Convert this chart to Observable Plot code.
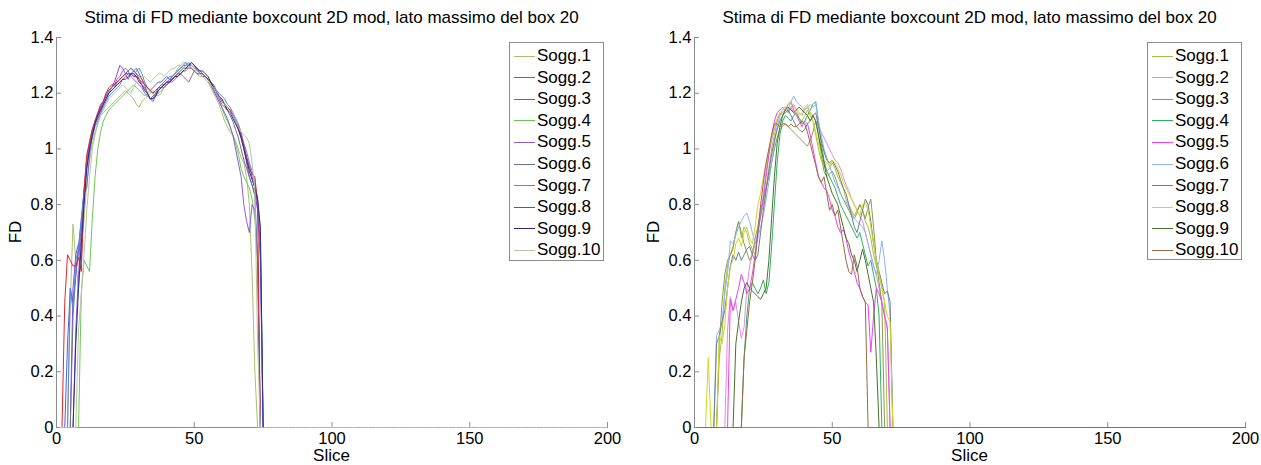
<!DOCTYPE html>
<html>
<head>
<meta charset="utf-8">
<script src="https://cdn.jsdelivr.net/npm/d3@7"></script>
<script src="https://cdn.jsdelivr.net/npm/@observablehq/plot@0.6"></script>
<style>
  body { margin: 0; background: #fff; font-family: "Liberation Sans", Arial, Helvetica, sans-serif; }
  #root { position: relative; width: 1261px; height: 465px; overflow: hidden; }
  .panel { position: absolute; top: 0; width: 620px; height: 465px; }
  .title { position: absolute; top: 8px; font-size: 17px; white-space: nowrap; transform: translateX(-50%); color: #000; }
  .xlab { position: absolute; top: 448px; font-size: 17px; line-height: 16px; transform: translateX(-50%); color: #000; }
  .ylab { position: absolute; font-size: 17px; transform: translate(-50%, -50%) rotate(-90deg); color: #000; }
  .legend { position: absolute; border: 1px solid #8c8c8c; background: #fff; box-sizing: border-box; }
  .legend .row { position: absolute; left: 0; height: 20px; display: flex; align-items: center; font-size: 17px; white-space: nowrap; }
  .legend .sw { width: 21px; height: 0; border-top: 1px solid; margin: 0 2px 0 4px; }
</style>
</head>
<body>
<div id="root"></div>
<script>
// Box-count fractal dimension per slice, one series per subject
const seriesNames = ["Sogg.1","Sogg.2","Sogg.3","Sogg.4","Sogg.5","Sogg.6","Sogg.7","Sogg.8","Sogg.9","Sogg.10"];
const titleText = "Stima di FD mediante boxcount 2D mod, lato massimo del box 20";
const xLabel = "Slice";
const yLabel = "FD";
const xTicks = [0, 50, 100, 150, 200];
const yTicks = [0, 0.2, 0.4, 0.6, 0.8, 1, 1.2, 1.4];
const yTickLabels = ["0", "0.2", "0.4", "0.6", "0.8", "1", "1.2", "1.4"];
const lastSlice = 200;

const leftColors = ["#a6c270","#9b3fe0","#4a63e8","#6cc856","#8a5ce0","#6a7490","#5a86e0","#e02828","#2e2a8a","#b8c4a0"];
const rightColors = ["#a4c040","#e58ae5","#8c9a50","#30b060","#f040f0","#8cb4f4","#6a8088","#d0d820","#4a7030","#9a6a48"];

// first non-zero slice of each subject (left panel)
const leftStart = [5, 6, 4, 9, 7, 6, 5, 3, 7, 8];
const left1 = [0.45,0.73,0.60,0.50,0.62,0.75,0.88,0.96,1.02,1.06,1.09,1.12,1.13,1.14,1.15,1.16,1.17,1.18,1.19,1.20,1.21,1.20,1.19,1.18,1.16,1.15,1.17,1.18,1.19,1.20,1.21,1.20,1.19,1.20,1.22,1.23,1.24,1.26,1.27,1.29,1.30,1.31,1.31,1.30,1.29,1.28,1.27,1.26,1.26,1.25,1.24,1.22,1.20,1.18,1.16,1.13,1.10,1.08,1.06,1.05,1.03,1.00,0.97,0.95,0.90,0.80,0.55,0.20];
const left2 = [0.50,0.62,0.66,0.60,0.82,0.95,1.02,1.06,1.10,1.12,1.14,1.17,1.20,1.21,1.22,1.24,1.27,1.30,1.29,1.27,1.25,1.27,1.28,1.27,1.25,1.23,1.22,1.20,1.18,1.18,1.20,1.22,1.23,1.23,1.24,1.25,1.25,1.26,1.27,1.28,1.29,1.29,1.30,1.31,1.30,1.28,1.27,1.27,1.26,1.25,1.24,1.23,1.21,1.19,1.17,1.16,1.14,1.13,1.12,1.10,1.07,1.04,1.00,0.95,0.90,0.87,0.84,0.78,0.60];
const left3 = [0.30,0.50,0.45,0.55,0.65,0.75,0.85,0.95,1.00,1.05,1.09,1.11,1.13,1.16,1.18,1.20,1.21,1.22,1.24,1.25,1.26,1.27,1.28,1.29,1.28,1.27,1.26,1.25,1.23,1.22,1.21,1.22,1.23,1.24,1.24,1.25,1.26,1.25,1.26,1.27,1.28,1.29,1.30,1.30,1.31,1.30,1.29,1.28,1.28,1.27,1.26,1.25,1.24,1.22,1.20,1.19,1.18,1.16,1.15,1.14,1.12,1.10,1.08,1.05,1.01,0.97,0.94,0.90,0.86,0.80,0.65];
const left4 = [0.48,0.60,0.58,0.56,0.75,0.90,1.00,1.06,1.10,1.12,1.14,1.15,1.16,1.17,1.18,1.19,1.20,1.21,1.22,1.23,1.22,1.21,1.20,1.19,1.20,1.21,1.20,1.19,1.20,1.21,1.22,1.23,1.24,1.25,1.26,1.27,1.28,1.29,1.30,1.30,1.29,1.28,1.27,1.27,1.26,1.26,1.25,1.23,1.21,1.19,1.17,1.15,1.12,1.10,1.08,1.05,1.02,0.98,0.93,0.90,0.88,0.86,0.82,0.75,0.60];
const left5 = [0.35,0.55,0.70,0.84,0.86,0.98,1.05,1.10,1.13,1.15,1.17,1.19,1.20,1.22,1.23,1.25,1.26,1.28,1.29,1.28,1.26,1.25,1.24,1.23,1.22,1.20,1.19,1.18,1.17,1.19,1.21,1.22,1.22,1.23,1.24,1.24,1.25,1.26,1.27,1.26,1.25,1.24,1.26,1.28,1.29,1.27,1.26,1.25,1.24,1.23,1.21,1.19,1.17,1.15,1.13,1.11,1.08,1.05,1.00,0.95,0.90,0.80,0.74,0.70,0.80,0.78,0.60];
const left6 = [0.40,0.55,0.62,0.72,0.85,0.97,1.03,1.07,1.10,1.12,1.15,1.17,1.19,1.21,1.22,1.23,1.24,1.25,1.26,1.27,1.28,1.29,1.28,1.29,1.27,1.25,1.23,1.20,1.18,1.19,1.20,1.21,1.22,1.23,1.23,1.24,1.25,1.26,1.26,1.27,1.28,1.28,1.29,1.29,1.28,1.27,1.27,1.26,1.26,1.25,1.24,1.22,1.20,1.18,1.16,1.15,1.14,1.12,1.10,1.07,1.04,1.00,0.96,0.93,0.90,0.87,0.83,0.60];
const left7 = [0.50,0.42,0.60,0.64,0.74,0.84,0.93,1.00,1.04,1.08,1.10,1.13,1.15,1.17,1.19,1.20,1.21,1.22,1.23,1.25,1.26,1.27,1.27,1.26,1.28,1.29,1.27,1.24,1.22,1.21,1.20,1.21,1.22,1.23,1.24,1.25,1.26,1.26,1.27,1.28,1.29,1.30,1.31,1.30,1.30,1.29,1.28,1.27,1.27,1.26,1.25,1.24,1.23,1.21,1.20,1.19,1.18,1.16,1.15,1.13,1.11,1.09,1.06,1.02,0.99,0.95,0.92,0.88,0.82,0.70];
const left8 = [0.45,0.62,0.60,0.58,0.58,0.61,0.56,0.85,0.98,1.02,1.07,1.10,1.13,1.16,1.17,1.20,1.22,1.23,1.23,1.24,1.25,1.26,1.27,1.27,1.27,1.26,1.26,1.25,1.24,1.23,1.22,1.21,1.20,1.21,1.22,1.22,1.23,1.24,1.24,1.25,1.26,1.27,1.27,1.28,1.29,1.29,1.30,1.29,1.28,1.27,1.27,1.26,1.25,1.24,1.22,1.20,1.19,1.18,1.16,1.15,1.14,1.12,1.10,1.08,1.05,1.01,0.97,0.93,0.91,0.90,0.80];
const left9 = [0.30,0.50,0.66,0.80,0.93,1.00,1.05,1.09,1.12,1.14,1.16,1.18,1.20,1.21,1.22,1.23,1.24,1.25,1.25,1.26,1.27,1.27,1.26,1.24,1.23,1.21,1.20,1.18,1.18,1.19,1.21,1.22,1.23,1.24,1.24,1.25,1.26,1.26,1.27,1.28,1.29,1.30,1.31,1.30,1.29,1.28,1.28,1.27,1.26,1.24,1.22,1.20,1.18,1.17,1.16,1.14,1.13,1.11,1.09,1.07,1.04,1.00,0.96,0.92,0.89,0.86,0.82,0.72];
const left10 = [0.35,0.48,0.62,0.78,0.90,1.00,1.05,1.09,1.12,1.14,1.16,1.18,1.19,1.20,1.21,1.22,1.23,1.22,1.21,1.20,1.22,1.24,1.25,1.26,1.26,1.25,1.24,1.25,1.26,1.27,1.27,1.26,1.27,1.28,1.29,1.29,1.30,1.30,1.29,1.28,1.29,1.30,1.29,1.28,1.27,1.26,1.25,1.24,1.23,1.22,1.20,1.18,1.17,1.16,1.15,1.13,1.12,1.10,1.08,1.06,1.05,1.04,1.02,0.95,0.85,0.30];

// first non-zero slice of each subject (right panel)
const rightStart = [9, 12, 9, 18, 13, 8, 8, 5, 15, 18];
const right1 = [0.25,0.33,0.50,0.58,0.62,0.64,0.70,0.74,0.68,0.72,0.70,0.66,0.64,0.62,0.70,0.76,0.80,0.86,0.93,1.00,1.05,1.10,1.13,1.12,1.14,1.13,1.15,1.13,1.12,1.11,1.10,1.12,1.14,1.12,1.10,1.05,1.00,0.96,0.94,0.92,0.93,0.95,0.93,0.90,0.88,0.86,0.82,0.80,0.78,0.76,0.78,0.80,0.78,0.74,0.72,0.68,0.62,0.58,0.55,0.50,0.45];
const right2 = [0.35,0.47,0.42,0.45,0.38,0.32,0.36,0.50,0.58,0.62,0.66,0.70,0.76,0.84,0.92,0.98,1.03,1.07,1.10,1.12,1.13,1.14,1.13,1.15,1.16,1.14,1.13,1.12,1.14,1.15,1.13,1.12,1.10,1.08,1.06,1.04,1.02,1.00,0.98,0.96,0.95,0.93,0.90,0.87,0.85,0.82,0.80,0.78,0.76,0.74,0.70,0.66,0.62,0.58,0.55,0.50,0.45,0.40,0.35];
const right3 = [0.30,0.45,0.55,0.60,0.62,0.65,0.70,0.74,0.70,0.66,0.63,0.60,0.62,0.68,0.72,0.78,0.82,0.86,0.90,0.95,1.00,1.04,1.07,1.08,1.09,1.08,1.07,1.06,1.05,1.04,1.03,1.02,1.01,1.03,1.06,1.10,1.05,0.98,0.92,0.90,0.91,0.92,0.90,0.87,0.84,0.82,0.80,0.78,0.76,0.75,0.77,0.80,0.78,0.75,0.79,0.82,0.72,0.60,0.52,0.45];
const right4 = [0.25,0.40,0.50,0.52,0.50,0.48,0.50,0.53,0.48,0.52,0.65,0.80,0.95,1.05,1.10,1.12,1.11,1.10,1.12,1.13,1.11,1.09,1.10,1.12,1.14,1.16,1.17,1.10,1.02,0.96,0.92,0.90,0.88,0.86,0.83,0.80,0.78,0.76,0.74,0.72,0.70,0.68,0.70,0.66,0.62,0.58,0.60,0.55,0.50,0.40];
const right5 = [0.46,0.42,0.46,0.50,0.55,0.52,0.48,0.50,0.55,0.62,0.70,0.76,0.82,0.90,0.98,1.05,1.10,1.13,1.14,1.15,1.14,1.16,1.17,1.14,1.12,1.10,1.08,1.10,1.09,1.05,1.00,0.95,0.90,0.88,0.86,0.85,0.82,0.78,0.76,0.72,0.70,0.71,0.68,0.63,0.60,0.56,0.52,0.50,0.47,0.45,0.44,0.27,0.40,0.50,0.48,0.45,0.40,0.36];
const right6 = [0.33,0.35,0.38,0.48,0.55,0.67,0.66,0.69,0.72,0.74,0.76,0.77,0.74,0.70,0.66,0.68,0.72,0.76,0.82,0.88,0.95,1.02,1.08,1.12,1.14,1.15,1.14,1.17,1.19,1.17,1.16,1.15,1.14,1.15,1.16,1.15,1.16,1.10,1.05,1.00,0.97,0.94,0.91,0.88,0.86,0.84,0.82,0.81,0.79,0.77,0.75,0.74,0.73,0.72,0.70,0.66,0.62,0.58,0.55,0.60,0.67,0.60,0.50,0.40];
const right7 = [0.30,0.33,0.38,0.42,0.50,0.58,0.62,0.60,0.63,0.60,0.62,0.64,0.65,0.62,0.60,0.62,0.70,0.78,0.85,0.92,0.98,1.03,1.07,1.10,1.12,1.13,1.14,1.12,1.10,1.08,1.07,1.06,1.07,1.09,1.10,1.12,1.13,1.08,1.03,0.99,0.96,0.95,0.96,0.94,0.92,0.89,0.86,0.84,0.80,0.76,0.72,0.70,0.74,0.78,0.82,0.80,0.74,0.66,0.60,0.56,0.52,0.48,0.49,0.45];
const right8 = [0.25,0,0,0,0.33,0.30,0.37,0.50,0.58,0.60,0.66,0.68,0.65,0.70,0.72,0.68,0.66,0.72,0.80,0.84,0.90,0.95,1.00,1.04,1.08,1.11,1.13,1.14,1.15,1.16,1.17,1.15,1.14,1.12,1.13,1.15,1.16,1.13,1.10,1.06,1.02,0.98,0.96,0.95,0.94,0.96,0.95,0.93,0.91,0.88,0.86,0.84,0.82,0.80,0.78,0.76,0.80,0.81,0.78,0.72,0.66,0.60,0.55,0.50,0.45,0.40,0.38];
const right9 = [0.30,0.38,0.45,0.50,0.52,0.50,0.49,0.48,0.47,0.46,0.48,0.50,0.60,0.75,0.90,1.02,1.08,1.12,1.14,1.15,1.14,1.13,1.14,1.15,1.14,1.13,1.12,1.10,1.12,1.10,1.05,1.00,0.95,0.90,0.87,0.84,0.82,0.80,0.76,0.72,0.68,0.66,0.62,0.60,0.56,0.60,0.64,0.60,0.55,0.50,0.45,0.25];
const right10 = [0.25,0.35,0.45,0.52,0.60,0.70,0.80,0.88,0.95,1.00,1.05,1.09,1.09,1.08,1.09,1.09,1.08,1.09,1.08,1.08,1.09,1.10,1.09,1.06,1.02,0.98,0.94,0.90,0.88,0.90,0.84,0.78,0.80,0.76,0.78,0.72,0.66,0.60,0.56,0.55,0.62,0.58,0.50,0.47,0.45];

const leftSeries = [left1, left2, left3, left4, left5, left6, left7, left8, left9, left10];
const rightSeries = [right1, right2, right3, right4, right5, right6, right7, right8, right9, right10];

// one row per subject and slice 1..200; slices outside the measured range are 0
function toRows(starts, series) {
  const rows = [];
  series.forEach((vals, i) => {
    for (let s = 1; s <= lastSlice; s++) {
      const k = s - starts[i];
      rows.push({name: seriesNames[i], slice: s, fd: k >= 0 && k < vals.length ? vals[k] : 0});
    }
  });
  return rows;
}

const W = 620, H = 465, ML = 56, MR = 13, MT = 37, MB = 38;
const innerW = W - ML - MR, innerH = H - MT - MB;
const axisGrey = "#8c8c8c";

function panel(rows, colors) {
  return Plot.plot({
    width: W, height: H,
    marginLeft: ML, marginRight: MR, marginTop: MT, marginBottom: MB,
    x: {domain: [0, lastSlice]},
    y: {domain: [0, 1.4]},
    color: {domain: seriesNames, range: colors},
    style: {fontFamily: '"Liberation Sans", Arial, Helvetica, sans-serif', fontSize: "16.5px", color: "#000", background: "transparent", overflow: "visible"},
    marks: [
      Plot.axisX(xTicks, {tickSize: 0, tickPadding: 5, label: null, fill: "#000"}),
      Plot.axisY(yTicks, {tickSize: 0, tickPadding: 3, label: null, fill: "#000", tickFormat: (d, i) => yTickLabels[i]}),
      Plot.tickX(xTicks, {x: d => d, stroke: axisGrey, insetTop: innerH - 5}),
      Plot.tickY(yTicks, {y: d => d, stroke: axisGrey, insetRight: innerW - 5}),
      Plot.ruleX([0], {stroke: axisGrey}),
      Plot.ruleY([0], {stroke: axisGrey}),
      Plot.line(rows, {x: "slice", y: "fd", z: "name", stroke: "name", strokeWidth: 1})
    ]
  });
}

function legend(colors, box) {
  const div = document.createElement("div");
  div.className = "legend";
  Object.assign(div.style, {left: box.x + "px", top: box.y + "px", width: box.w + "px", height: box.h + "px"});
  seriesNames.forEach((n, i) => {
    const row = document.createElement("div");
    row.className = "row";
    row.style.top = (box.first + i * box.step - 10) + "px";
    const sw = document.createElement("span");
    sw.className = "sw";
    sw.style.borderColor = colors[i];
    const t = document.createElement("span");
    t.textContent = n;
    row.append(sw, t);
    div.append(row);
  });
  return div;
}

const root = document.getElementById("root");
const panels = [
  {left: 0, rows: toRows(leftStart, leftSeries), colors: leftColors, legend: {x: 509, y: 42, w: 95, h: 219}},
  {left: 638, rows: toRows(rightStart, rightSeries), colors: rightColors, legend: {x: 1147, y: 42, w: 95, h: 218}}
];
panels.forEach(p => {
  const wrap = document.createElement("div");
  wrap.className = "panel";
  wrap.style.left = p.left + "px";
  wrap.append(panel(p.rows, p.colors));
  root.append(wrap);

  const cx = p.left + ML + innerW / 2;
  const title = document.createElement("div");
  title.className = "title";
  title.style.left = cx + "px";
  title.textContent = titleText;
  root.append(title);

  const xl = document.createElement("div");
  xl.className = "xlab";
  xl.style.left = cx + "px";
  xl.textContent = xLabel;
  root.append(xl);

  const yl = document.createElement("div");
  yl.className = "ylab";
  yl.style.left = (p.left + 16) + "px";
  yl.style.top = (MT + innerH / 2) + "px";
  yl.textContent = yLabel;
  root.append(yl);

  root.append(legend(p.colors, {...p.legend, first: 13, step: 21.6}));
});
</script>
</body>
</html>
